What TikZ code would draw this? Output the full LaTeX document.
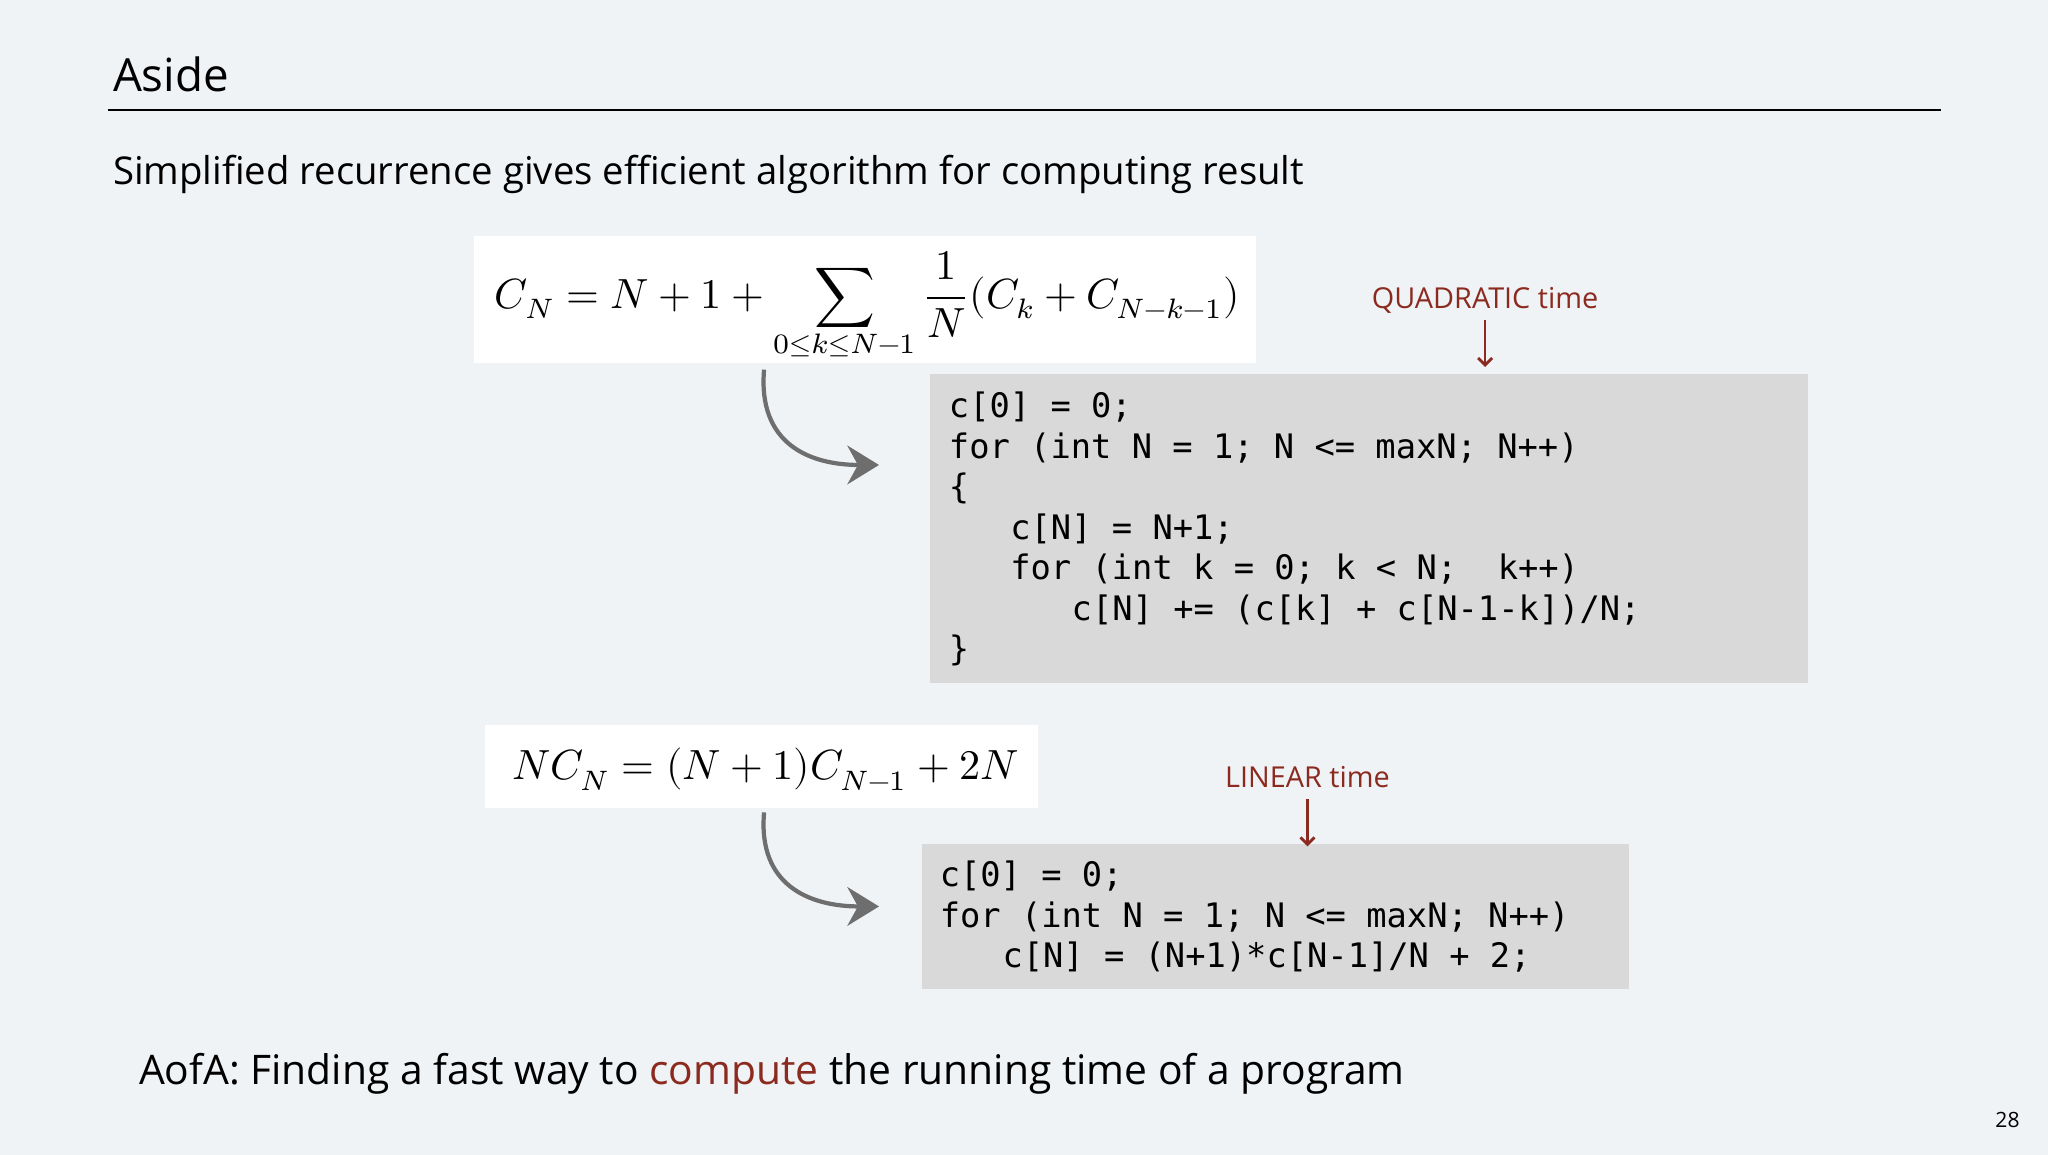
\documentclass[tikz,border=0pt]{standalone}
\usepackage{fontspec}
\setmainfont{Open Sans}
\setmonofont{DejaVu Sans Mono}
\usepackage{unicode-math}
\setmathfont{Latin Modern Math}
\usetikzlibrary{arrows.meta}
\definecolor{bg}{HTML}{F0F3F6}
\definecolor{codebg}{HTML}{D9D9D9}
\definecolor{myred}{HTML}{8B2A1F}
\definecolor{arrgray}{HTML}{6E6E6E}
\tikzset{
  codeline/.style={anchor=base west,inner sep=0pt,font=\fontsize{9.6}{11}\ttfamily},
  redlabel/.style={anchor=base,inner sep=0pt,text=myred,font=\fontsize{8.2}{10}\selectfont},
  redarrow/.style={draw=myred,line width=0.8pt,-{Straight Barb[length=2pt,width=4pt]}},
  curvearrow/.style={draw=arrgray,line width=1.2pt,-{Stealth[length=9pt,width=11pt,inset=3pt]}},
}
\begin{document}
\begin{tikzpicture}[x=0.01306cm,y=-0.01306cm]
\fill[bg] (0,0) rectangle (1568,884);
\useasboundingbox (0,0) rectangle (1568,884);
\node[anchor=base west,inner sep=0pt,font=\fontsize{13}{16}\selectfont] (title) at (86,70) {Aside};
\draw[line width=0.5pt] (83,84) -- (1486,84);
\node[anchor=base west,inner sep=0pt,font=\fontsize{10.9}{13}\selectfont] (sub) at (86,141) {Simplified recurrence gives efficient algorithm for computing result};
\fill[white] (363,181) rectangle (962,278);
\node[inner sep=0pt,font=\fontsize{12}{14}\selectfont] (f1) at (664,235) {$C_N = N+1+\displaystyle\sum_{0\le k\le N-1}\frac{1}{N}(C_k+C_{N-k-1})$};
\fill[codebg] (712,286) rectangle (1384,523);
\node[codeline] (c1) at (726,320) {c[0] = 0;};
\node[codeline] (c2) at (726,351) {for (int N = 1; N <= maxN; N++)};
\node[codeline] (c3) at (726,382) {\{};
\node[codeline] (c4) at (773,413) {c[N] = N+1;};
\node[codeline] (c5) at (773,444) {for (int k = 0; k < N;~~k++)};
\node[codeline] (c6) at (820,475) {c[N] += (c[k] + c[N-1-k])/N;};
\node[codeline] (c7) at (726,506) {\}};
\node[redlabel] (q) at (1137,236) {QUADRATIC time};
\coordinate (qa) at (1137,281);
\draw[redarrow] (1137,245) -- (qa);
\coordinate (s1) at (585,283);
\coordinate (e1) at (673,356);
\draw[curvearrow] (s1) .. controls (580,340) and (620,356) .. (e1);
\fill[white] (371,555) rectangle (795,619);
\node[inner sep=0pt,font=\fontsize{12}{14}\selectfont] (f2) at (586,589) {$NC_N=(N+1)C_{N-1}+2N$};
\fill[codebg] (706,646) rectangle (1247,757);
\node[codeline] (d1) at (719,679) {c[0] = 0;};
\node[codeline] (d2) at (719,710) {for (int N = 1; N <= maxN; N++)};
\node[codeline] (d3) at (767,741) {c[N] = (N+1)*c[N-1]/N + 2;};
\node[redlabel] (l) at (1001,603) {LINEAR time};
\coordinate (la) at (1001,648);
\draw[redarrow] (1001,612) -- (la);
\coordinate (s2) at (585,622);
\coordinate (e2) at (673,694);
\draw[curvearrow] (s2) .. controls (580,678) and (620,694) .. (e2);
\node[anchor=base west,inner sep=0pt,font=\fontsize{11.6}{14}\selectfont] (bot) at (106,830) {AofA: Finding a fast way to \textcolor{myred}{compute} the running time of a program};
\node[anchor=base,inner sep=0pt,font=\fontsize{6}{7}\selectfont] (pg) at (1537,863) {28};
\end{tikzpicture}
\end{document}
